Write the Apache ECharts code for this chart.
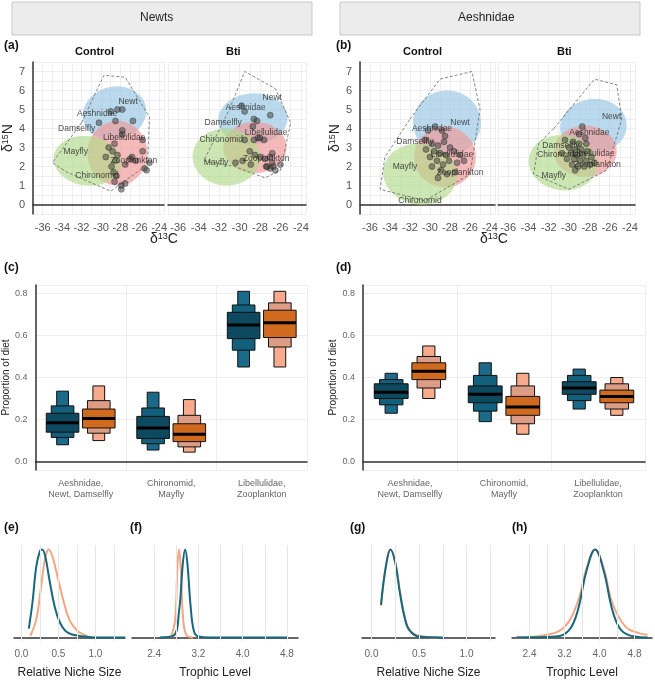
<!DOCTYPE html>
<html>
<head>
<meta charset="utf-8">
<script src="https://cdn.jsdelivr.net/npm/echarts@6/dist/echarts.min.js"></script>
<style>html,body{margin:0;background:#fff}#main{width:655px;height:680px}</style>
</head>
<body>
<div id="main"></div>
<script>
var chart = echarts.init(document.getElementById('main'));

// isotope panels: ellipses [cx, cy, rx, ry, angle], hulls, points, labels
var ellNewtCtrl = [[-28.6, 4.8, 3.3, 1.4, 15], [-28.3, 2.7, 3.1, 1.7, 0], [-31.4, 2.3, 3.5, 1.3, -8]];
var ellNewtBti = [[-28.7, 4.5, 3.4, 1.35, 5], [-28.5, 3.0, 3.1, 1.35, 0], [-31.3, 2.5, 3.3, 1.5, -5]];
var ellAeshCtrl = [[-28.3, 4.3, 3.4, 1.7, 20], [-28.5, 2.5, 3.1, 1.6, 0], [-31.0, 1.6, 3.7, 1.6, -10]];
var ellAeshBti = [[-27.6, 4.1, 3.3, 1.45, 10], [-28.4, 2.8, 3.1, 1.35, 0], [-30.6, 2.2, 3.4, 1.45, -10]];
var ellColors = ['rgba(150,196,226,0.65)', 'rgba(240,150,150,0.65)', 'rgba(176,218,138,0.65)'];

var hullNewtCtrl = [[-32, 4.3], [-29.7, 6.8], [-27.5, 6.7], [-25, 4.6], [-25.2, 2.1], [-29, 0.7], [-33.5, 1.7], [-35, 2.2]];
var hullNewtBti = [[-31, 5.0], [-29.5, 7.0], [-26.5, 6.1], [-25, 4.3], [-26, 1.8], [-27.5, 1.4], [-30.5, 2.0], [-33.5, 2.3]];
var hullAeshCtrl = [[-32, 4.5], [-29, 6.6], [-25.8, 7.0], [-25, 5.0], [-26, 1.6], [-30.5, 0.2], [-35, 0.8], [-34.5, 2.5]];
var hullAeshBti = [[-31.5, 4.0], [-27.5, 6.6], [-25.3, 6.3], [-24.8, 4.5], [-26.3, 1.8], [-30, 0.8], [-33.5, 1.6], [-33, 3.2]];

var ptsNewtCtrl = [[-29, 4.9], [-28.3, 5.0], [-27.8, 5.0], [-26.7, 4.4], [-30.2, 4.3], [-28.5, 4.4], [-27.8, 3.9], [-27.8, 3.7], [-28.6, 3.2], [-29.2, 3.0], [-28.8, 2.8], [-28.3, 2.6], [-28.5, 2.3], [-28.9, 2.0], [-28.7, 1.7], [-28.4, 1.5], [-28.6, 1.2], [-27.9, 1.0], [-27.9, 0.8], [-27.5, 1.1], [-26.8, 2.5], [-26.4, 2.3], [-25.7, 2.8], [-25.7, 3.4], [-25.5, 1.9], [-25.3, 1.8], [-25.0, 2.2], [-27.5, 2.1], [-27, 2.4], [-29.5, 2.5]];
var ptsNewtBti = [[-29.8, 5.2], [-29.5, 4.9], [-28.6, 4.5], [-28.3, 4.4], [-27, 4.7], [-28.7, 4.1], [-28.2, 3.5], [-28, 3.5], [-29.5, 3.4], [-28.6, 3.4], [-27.6, 3.4], [-29, 2.8], [-28.5, 2.6], [-28, 2.5], [-27.5, 2.4], [-27, 2.5], [-26.8, 2.7], [-30.4, 2.2], [-29.7, 2.3], [-28.9, 2.1], [-27.4, 2.0], [-27.0, 1.9], [-26.8, 2.2], [-26.5, 1.8], [-26, 2.1], [-27.3, 2.0], [-26.7, 2.0]];
var ptsAeshCtrl = [[-29.5, 4.1], [-30.2, 3.9], [-28.8, 3.9], [-30.5, 3.4], [-29.8, 3.2], [-29.2, 3.1], [-28.6, 3.3], [-28.0, 3.0], [-29.6, 2.8], [-29.0, 2.7], [-28.4, 2.6], [-27.6, 2.8], [-30.0, 2.5], [-29.3, 2.3], [-28.7, 2.1], [-28.1, 2.3], [-27.3, 2.2], [-29.8, 2.0], [-28.9, 1.8], [-28.3, 1.6], [-27.5, 1.7], [-27.0, 2.6], [-30.4, 2.9], [-28.5, 3.6], [-29.2, 1.4], [-26.6, 2.3]];
var ptsAeshBti = [[-29.0, 3.7], [-28.4, 3.5], [-29.6, 3.3], [-29.0, 3.2], [-28.3, 3.2], [-30.0, 3.0], [-29.4, 2.9], [-28.8, 2.9], [-28.2, 2.8], [-29.8, 2.7], [-29.2, 2.6], [-28.6, 2.6], [-30.2, 2.4], [-29.5, 2.4], [-28.9, 2.3], [-28.3, 2.3], [-27.8, 2.5], [-29.7, 2.1], [-29.1, 2.0], [-28.5, 2.0], [-27.9, 2.1], [-30.4, 3.4], [-28.7, 4.1], [-27.5, 2.2], [-29.4, 1.8], [-30.7, 2.7]];

var labNewtCtrl = [['Newt', -27.2, 5.4], ['Aeshnidae', -30.4, 4.8], ['Damselfly', -32.5, 4.0], ['Libellulidae', -27.6, 3.5], ['Mayfly', -32.6, 2.8], ['Chironomid', -30.4, 1.5], ['Zooplankton', -26.6, 2.3]];
var labNewtBti = [['Newt', -26.8, 5.6], ['Aeshnidae', -29.4, 5.1], ['Damselfly', -31.6, 4.3], ['Libellulidae', -27.4, 3.8], ['Chironomid', -31.8, 3.4], ['Mayfly', -32.3, 2.2], ['Zooplankton', -27.4, 2.4]];
var labAeshCtrl = [['Newt', -27.0, 4.3], ['Aeshnidae', -29.8, 4.0], ['Damselfly', -31.5, 3.3], ['Libellulidae', -27.8, 2.6], ['Mayfly', -32.5, 2.0], ['Zooplankton', -27.0, 1.7], ['Chironomid', -31.0, 0.2]];
var labAeshBti = [['Newt', -25.8, 4.6], ['Aeshnidae', -28.0, 3.8], ['Damselfly', -30.8, 3.1], ['Libellulidae', -27.6, 2.7], ['Chironomid', -31.0, 2.6], ['Zooplankton', -27.2, 2.1], ['Mayfly', -31.5, 1.5]];

// letter-value boxes: [median, lo1, hi1, lo2, hi2, lo3, hi3] per category
var dietCats = ['Aeshnidae,\nNewt, Damselfly', 'Chironomid,\nMayfly', 'Libellulidae,\nZooplankton'];
var dietNewtCtrl = [[0.185, 0.14, 0.23, 0.115, 0.265, 0.08, 0.335], [0.16, 0.11, 0.215, 0.085, 0.255, 0.055, 0.33], [0.65, 0.585, 0.71, 0.53, 0.745, 0.45, 0.81]];
var dietNewtBti = [[0.205, 0.16, 0.25, 0.135, 0.29, 0.10, 0.36], [0.13, 0.095, 0.18, 0.07, 0.22, 0.045, 0.295], [0.66, 0.59, 0.72, 0.545, 0.755, 0.45, 0.81]];
var dietAeshCtrl = [[0.33, 0.30, 0.37, 0.27, 0.39, 0.23, 0.42], [0.32, 0.28, 0.36, 0.24, 0.41, 0.19, 0.47], [0.35, 0.32, 0.38, 0.29, 0.41, 0.25, 0.44]];
var dietAeshBti = [[0.43, 0.39, 0.47, 0.35, 0.50, 0.30, 0.55], [0.26, 0.22, 0.31, 0.18, 0.36, 0.13, 0.42], [0.31, 0.28, 0.34, 0.25, 0.37, 0.22, 0.40]];

// posterior densities [x, relative density]
var nicheNewtCtrl = [[0.1, 0.1], [0.15, 0.4], [0.2, 0.8], [0.25, 0.98], [0.28, 1], [0.32, 0.93], [0.38, 0.65], [0.45, 0.35], [0.52, 0.17], [0.6, 0.07], [0.7, 0.03], [0.85, 0.01], [1.0, 0], [1.4, 0]];
var nicheNewtBti = [[0.12, 0.02], [0.2, 0.2], [0.27, 0.6], [0.32, 0.9], [0.37, 1], [0.42, 0.92], [0.5, 0.65], [0.58, 0.38], [0.65, 0.2], [0.75, 0.08], [0.85, 0.03], [0.9, 0.01]];
var tlNewtCtrl = [[2.5, 0], [2.75, 0.02], [2.85, 0.3], [2.92, 0.85], [2.96, 1], [3.0, 0.85], [3.06, 0.35], [3.12, 0.07], [3.2, 0.01], [3.4, 0], [4.8, 0]];
var tlNewtBti = [[2.7, 0], [2.78, 0.2], [2.82, 0.8], [2.85, 1], [2.88, 0.8], [2.92, 0.25], [2.98, 0.03], [3.1, 0]];
var nicheAeshCtrl = [[0.1, 0.37], [0.15, 0.8], [0.2, 1], [0.25, 0.85], [0.3, 0.5], [0.35, 0.22], [0.4, 0.08], [0.5, 0.01], [0.75, 0]];
var nicheAeshBti = [[0.1, 0.36], [0.15, 0.79], [0.2, 1], [0.25, 0.86], [0.3, 0.52], [0.35, 0.23], [0.4, 0.09], [0.5, 0.02], [0.7, 0]];
var tlAeshCtrl = [[2.1, 0], [3.0, 0.01], [3.3, 0.08], [3.5, 0.3], [3.7, 0.75], [3.9, 1], [4.1, 0.75], [4.3, 0.3], [4.5, 0.08], [4.8, 0.01], [5.1, 0]];
var tlAeshBti = [[2.1, 0], [2.8, 0.03], [3.2, 0.12], [3.5, 0.4], [3.7, 0.78], [3.9, 1], [4.1, 0.78], [4.3, 0.38], [4.6, 0.12], [4.9, 0.05], [5.1, 0.03]];

var nicheGrid = [0, 0.25, 0.5, 0.75, 1.0, 1.25];
var tlGrid = [2.4, 2.8, 3.2, 3.6, 4.0, 4.4, 4.8];

var teal = '#17677d', salmon = '#f4a582';
var ctrlCols = ['#0d4a60', '#13607d', '#1b6a8a'];
var btiCols = ['#cf6a1f', '#dc9c86', '#f7aa8c'];
var FONT = 'Liberation Sans';

var grids = [], xAxes = [], yAxes = [], series = [];

function isoPanel(left, width, showY, ells, hull, pts, labs) {
  var gi = grids.length;
  grids.push({left: left, top: 62, width: width, height: 152});
  xAxes.push({gridIndex: gi, type: 'value', min: -37, max: -23.5, interval: 1,
    axisLine: {lineStyle: {color: '#333', width: 1.5}}, axisTick: {show: false},
    axisLabel: {color: '#555', fontSize: 11, formatter: function (v) { return v % 2 === 0 ? v : ''; }},
    splitLine: {lineStyle: {color: '#eee'}}});
  yAxes.push({gridIndex: gi, type: 'value', min: -0.5, max: 7.5, interval: 0.5,
    axisLine: {show: showY, lineStyle: {color: '#333', width: 1.5}}, axisTick: {show: false},
    axisLabel: {show: showY, color: '#555', fontSize: 11, formatter: function (v) { return (v >= 0 && v % 1 === 0) ? v : ''; }},
    splitLine: {lineStyle: {color: '#eee'}},
    name: showY ? '{a|δ}{s|15}{a|N}' : '', nameLocation: 'middle', nameGap: 16, nameRotate: 90,
    nameTextStyle: {rich: {a: {fontSize: 14, color: '#222'}, s: {fontSize: 9, color: '#222', verticalAlign: 'top'}}}});
  series.push({type: 'custom', xAxisIndex: gi, yAxisIndex: gi, data: ells, silent: true,
    renderItem: function (params, api) {
      var cx = api.value(0), cy = api.value(1), rx = api.value(2), ry = api.value(3), a = api.value(4) * Math.PI / 180;
      var p = [];
      for (var i = 0; i < 60; i++) {
        var t = i / 60 * Math.PI * 2;
        var ex = rx * Math.cos(t), ey = ry * Math.sin(t);
        p.push(api.coord([cx + ex * Math.cos(a) - ey * Math.sin(a) * 2, cy + ex * Math.sin(a) / 2 + ey * Math.cos(a)]));
      }
      return {type: 'polygon', shape: {points: p}, style: {fill: ellColors[params.dataIndex]}};
    }});
  series.push({type: 'custom', xAxisIndex: gi, yAxisIndex: gi, data: [0], silent: true,
    renderItem: function (params, api) {
      return {type: 'polygon', shape: {points: hull.map(function (h) { return api.coord(h); })},
        style: {fill: 'none', stroke: '#666', lineWidth: 0.8, lineDash: [3, 2]}};
    }});
  series.push({type: 'scatter', xAxisIndex: gi, yAxisIndex: gi, data: pts, symbolSize: 6,
    itemStyle: {color: 'rgba(50,50,50,0.6)', borderColor: '#222', borderWidth: 0.5}});
  series.push({type: 'scatter', xAxisIndex: gi, yAxisIndex: gi, symbolSize: 0,
    data: labs.map(function (l) { return {value: [l[1], l[2]], name: l[0]}; }),
    label: {show: true, position: 'inside', formatter: '{b}', fontSize: 8.5, color: '#222', fontFamily: FONT}});
}

function dietPanel(left, width, ctrl, bti) {
  var gi = grids.length;
  grids.push({left: left, top: 285, width: width, height: 185});
  xAxes.push({gridIndex: gi, type: 'category', data: dietCats,
    axisLine: {lineStyle: {color: '#333', width: 1.5}}, axisTick: {show: false},
    axisLabel: {color: '#666', fontSize: 9, lineHeight: 11},
    splitLine: {show: true, lineStyle: {color: '#eee'}}});
  yAxes.push({gridIndex: gi, type: 'value', min: -0.04, max: 0.84,
    axisLine: {show: true, lineStyle: {color: '#333', width: 1.5}}, axisTick: {show: false},
    axisLabel: {color: '#666', fontSize: 9, formatter: function (v) { return v.toFixed(1); }},
    splitLine: {lineStyle: {color: '#eee'}},
    name: 'Proportion of diet', nameLocation: 'middle', nameGap: 24, nameTextStyle: {fontSize: 10, color: '#222'}});
  var widths = [0.36, 0.25, 0.13];
  [[ctrl, -0.2, ctrlCols], [bti, 0.2, btiCols]].forEach(function (g) {
    series.push({type: 'custom', xAxisIndex: gi, yAxisIndex: gi, silent: true,
      data: g[0].map(function (d, i) { return [i].concat(d); }),
      renderItem: function (params, api) {
        var band = api.size([1, 0])[0];
        var cx = api.coord([api.value(0), 0])[0] + g[1] * band;
        var kids = [];
        for (var lv = 2; lv >= 0; lv--) {
          var lo = api.coord([0, api.value(2 + lv * 2)])[1], hi = api.coord([0, api.value(3 + lv * 2)])[1];
          var w = widths[lv] * band;
          kids.push({type: 'rect', shape: {x: cx - w / 2, y: hi, width: w, height: lo - hi},
            style: {fill: g[2][lv], stroke: '#111', lineWidth: 1}});
        }
        var my = api.coord([0, api.value(1)])[1], wm = widths[0] * band;
        kids.push({type: 'line', shape: {x1: cx - wm / 2, y1: my, x2: cx + wm / 2, y2: my}, style: {stroke: '#000', lineWidth: 3}});
        return {type: 'group', children: kids};
      }});
  });
}

function densPanel(left, width, min, max, interval, labelVals, gridVals, ctrl, bti, name) {
  var gi = grids.length;
  grids.push({left: left, top: 545, width: width, height: 97});
  xAxes.push({gridIndex: gi, type: 'value', min: min, max: max, interval: interval,
    axisLine: {lineStyle: {color: '#333', width: 1.5}}, axisTick: {show: false},
    axisLabel: {color: '#666', fontSize: 10, formatter: function (v) {
      return labelVals.some(function (l) { return Math.abs(l - v) < 1e-6; }) ? v.toFixed(1) : ''; }},
    splitLine: {show: false},
    name: name, nameLocation: 'middle', nameGap: 26, nameTextStyle: {fontSize: 12, color: '#222'}});
  yAxes.push({gridIndex: gi, type: 'value', min: -0.04, max: 1.05, show: false});
  series.push({type: 'line', xAxisIndex: gi, yAxisIndex: gi, data: bti, smooth: 0.4, symbol: 'none',
    lineStyle: {color: salmon, width: 2},
    markLine: {silent: true, symbol: 'none', label: {show: false}, lineStyle: {color: '#e6e6e6', type: 'solid', width: 1},
      data: gridVals.map(function (v) { return {xAxis: v}; })}});
  series.push({type: 'line', xAxisIndex: gi, yAxisIndex: gi, data: ctrl, smooth: 0.4, symbol: 'none',
    lineStyle: {color: teal, width: 2}});
}

isoPanel(28, 136, true, ellNewtCtrl, hullNewtCtrl, ptsNewtCtrl, labNewtCtrl);
isoPanel(168, 138, false, ellNewtBti, hullNewtBti, ptsNewtBti, labNewtBti);
isoPanel(360, 135, true, ellAeshCtrl, hullAeshCtrl, ptsAeshCtrl, labAeshCtrl);
isoPanel(498, 137, false, ellAeshBti, hullAeshBti, ptsAeshBti, labAeshBti);
dietPanel(35, 272, dietNewtCtrl, dietNewtBti);
dietPanel(363, 282, dietAeshCtrl, dietAeshBti);
densPanel(14, 111, -0.1, 1.4, 0.1, [0, 0.5, 1], nicheGrid, nicheNewtCtrl, nicheNewtBti, 'Relative Niche Size');
densPanel(132, 166, 2.0, 5.0, 0.4, [2.4, 3.2, 4.0, 4.8], tlGrid, tlNewtCtrl, tlNewtBti, 'Trophic Level');
densPanel(362, 133, -0.1, 1.3, 0.1, [0, 0.5, 1], nicheGrid, nicheAeshCtrl, nicheAeshBti, 'Relative Niche Size');
densPanel(512, 143, 2.0, 5.2, 0.4, [2.4, 3.2, 4.0, 4.8], tlGrid, tlAeshCtrl, tlAeshBti, 'Trophic Level');

var tag = function (t, x, y) { return {type: 'text', left: x, top: y, style: {text: t, fontSize: 12, fontWeight: 'bold', fill: '#111', fontFamily: FONT}}; };
var facet = function (t, x) { return {type: 'text', left: x, top: 46, style: {text: t, fontSize: 11, fontWeight: 'bold', fill: '#111', fontFamily: FONT}}; };
var dC = function (x) { return {type: 'text', left: x, top: 232, style: {text: '{a|δ}{s|13}{a|C}', rich: {a: {fontSize: 14, fill: '#222'}, s: {fontSize: 9, fill: '#222', verticalAlign: 'top'}}}}; };

chart.setOption({
  animation: false,
  textStyle: {fontFamily: FONT},
  grid: grids, xAxis: xAxes, yAxis: yAxes, series: series,
  graphic: [
    {type: 'rect', shape: {x: 12, y: 2, width: 300, height: 33}, style: {fill: '#ececec', stroke: '#c8c8c8'}},
    {type: 'rect', shape: {x: 340, y: 2, width: 300, height: 33}, style: {fill: '#ececec', stroke: '#c8c8c8'}},
    {type: 'text', left: 140, top: 12, style: {text: 'Newts', fontSize: 12, fill: '#222'}},
    {type: 'text', left: 458, top: 12, style: {text: 'Aeshnidae', fontSize: 12, fill: '#222'}},
    tag('(a)', 4, 40), tag('(b)', 336, 40), tag('(c)', 4, 262), tag('(d)', 336, 262),
    tag('(e)', 4, 522), tag('(f)', 130, 522), tag('(g)', 350, 522), tag('(h)', 512, 522),
    facet('Control', 75), facet('Bti', 226), facet('Control', 403), facet('Bti', 557),
    dC(150), dC(480)
  ]
});
</script>
</body>
</html>
